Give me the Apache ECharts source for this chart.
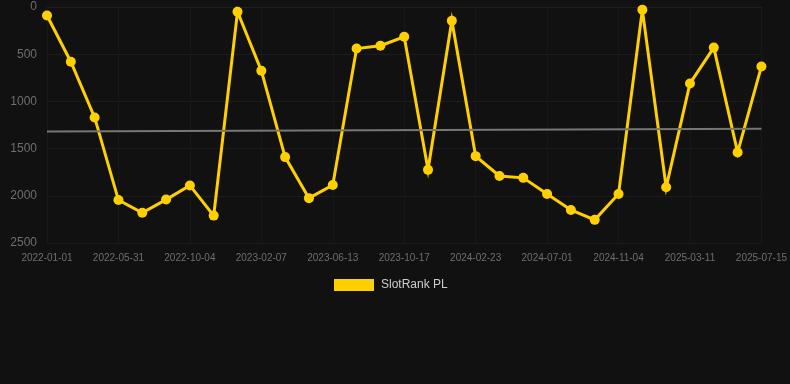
<!DOCTYPE html>
<html>
<head>
<meta charset="utf-8">
<script src="https://cdn.jsdelivr.net/npm/echarts@6/dist/echarts.min.js"></script>
<style>
  html, body { margin: 0; padding: 0; background: #111111; }
  #chart { width: 790px; height: 384px; }
</style>
</head>
<body>
<div id="chart"></div>
<script>
// dates (category axis, one point per snapshot)
var dates = [
    '2022-01-01', '2022-02-20', '2022-04-11', '2022-05-31', '2022-07-12', '2022-08-23',
    '2022-10-04', '2022-11-15', '2022-12-27', '2023-02-07', '2023-03-21', '2023-05-02',
    '2023-06-13', '2023-07-25', '2023-09-05', '2023-10-17', '2023-11-29', '2024-01-11',
    '2024-02-23', '2024-04-05', '2024-05-18', '2024-07-01', '2024-08-12', '2024-09-23',
    '2024-11-04', '2024-12-17', '2025-01-28', '2025-03-11', '2025-04-22', '2025-06-03',
    '2025-07-15'
];
// rank values
var rankPL = [
    90, 580, 1170, 2045, 2180, 2040, 1890, 2210, 50, 675, 1590, 2025,
    1885, 440, 410, 315, 1725, 145, 1580, 1790, 1810, 1980, 2150, 2255,
    1980, 30, 1910, 810, 430, 1540, 630
];
// trend line ends
var trendEnds = [1320, 1290];
var yTicks = [0, 2500, 500];

(function () {
    var myChart = echarts.init(document.getElementById('chart'));
    var option = {
        backgroundColor: '#111111',
        animation: false,
        grid: { left: 47, right: 28, top: 7, bottom: 141 },
        legend: {
            data: ['SlotRank PL'],
            top: 274,
            left: 329,
            itemWidth: 40,
            itemHeight: 12,
            itemGap: 10,
            icon: 'rect',
            textStyle: { color: '#cccccc', fontSize: 12, fontFamily: 'Liberation Sans', padding: [0, 0, 0, 2] }
        },
        xAxis: {
            type: 'category',
            boundaryGap: false,
            data: dates,
            axisLine: { lineStyle: { color: '#1e1e1e' } },
            axisTick: { show: false },
            axisLabel: {
                interval: 2,
                color: '#6e6e6e',
                fontSize: 10,
                fontFamily: 'Liberation Sans',
                margin: 10
            },
            splitLine: { show: true, interval: 2, lineStyle: { color: '#181818' } }
        },
        yAxis: {
            type: 'value',
            inverse: true,
            min: yTicks[0],
            max: yTicks[1],
            interval: yTicks[2],
            axisLine: { show: false },
            axisTick: { show: false },
            axisLabel: {
                color: '#6e6e6e',
                fontSize: 12,
                fontFamily: 'Liberation Sans',
                margin: 10,
                formatter: function (v) { return String(v); }
            },
            splitLine: { lineStyle: { color: '#1c1c1c' } }
        },
        series: [
            {
                name: 'SlotRank PL',
                type: 'line',
                data: rankPL,
                symbol: 'circle',
                symbolSize: 10,
                itemStyle: { color: '#FFD000' },
                lineStyle: { color: '#FFD000', width: 3, join: 'miter' },
                markLine: {
                    silent: true,
                    symbol: 'none',
                    label: { show: false },
                    lineStyle: { color: '#777777', width: 2, type: 'solid' },
                    data: [[
                        { coord: [dates[0], trendEnds[0]] },
                        { coord: [dates[dates.length - 1], trendEnds[1]] }
                    ]]
                },
                z: 3
            }
        ]
    };
    myChart.setOption(option);
    window.addEventListener('resize', function () {
        myChart.resize();
    });
})();
</script>
</body>
</html>
